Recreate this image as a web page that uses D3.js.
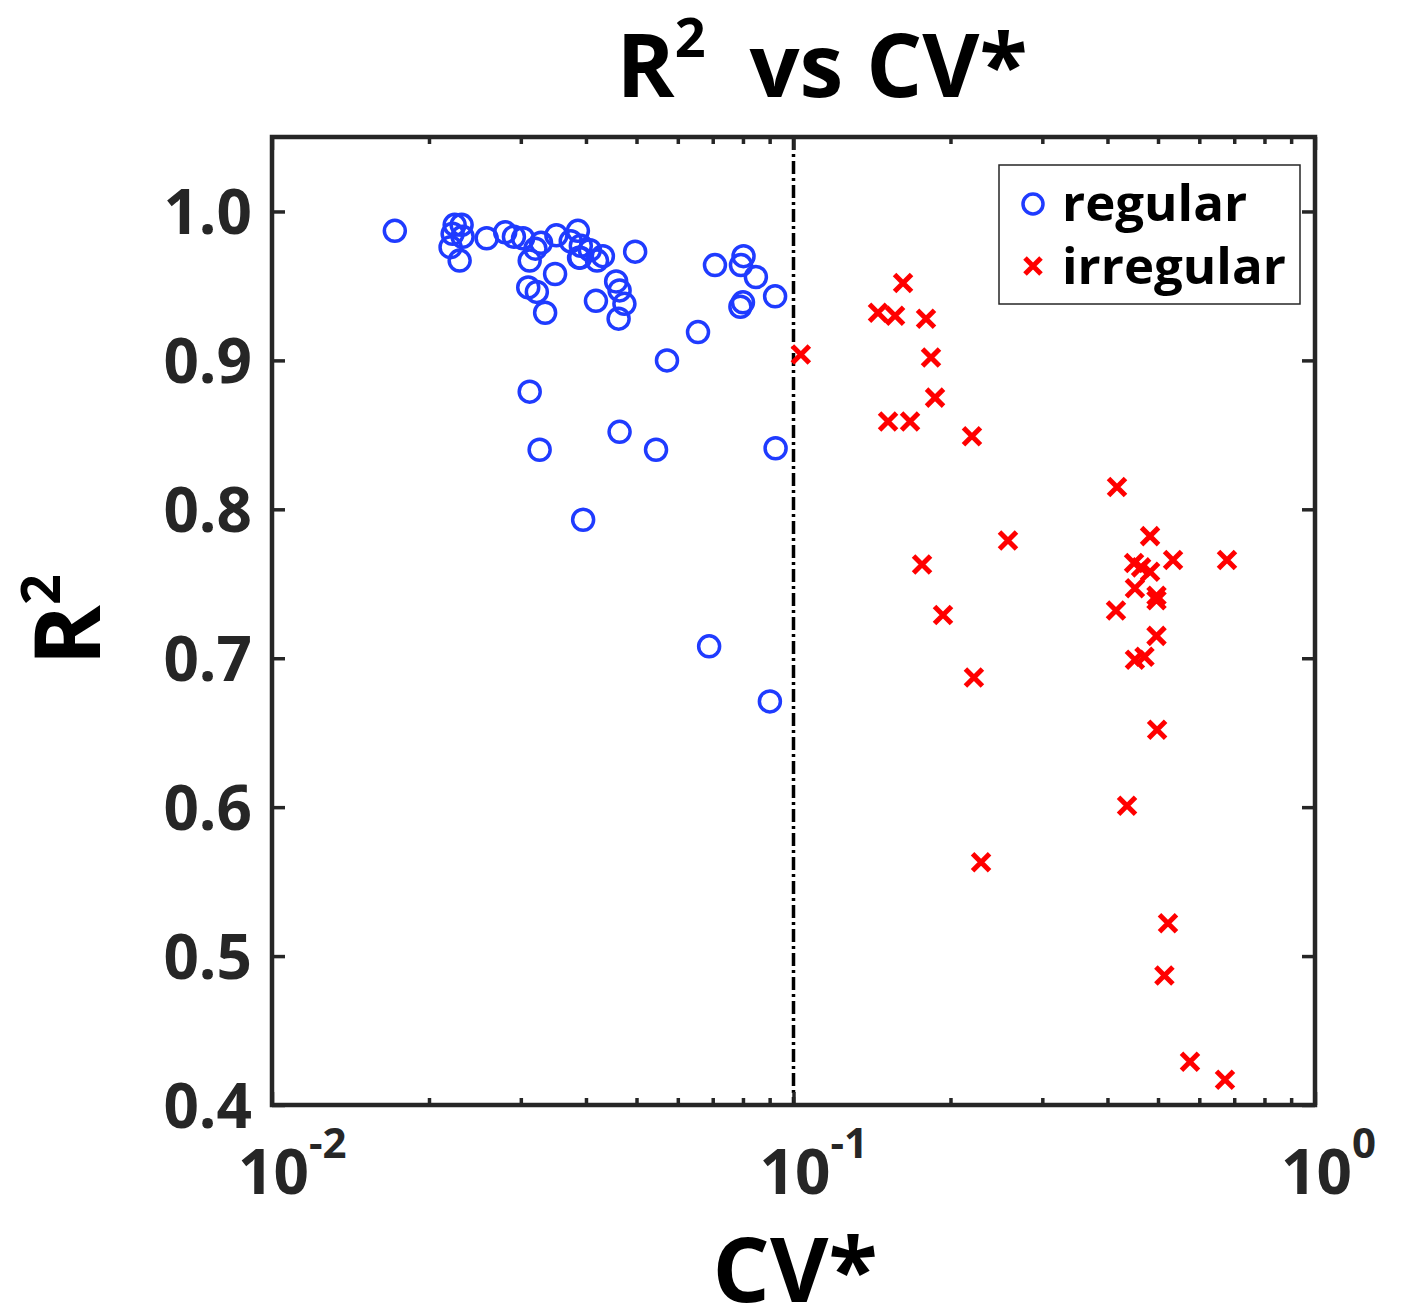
<!DOCTYPE html>
<html>
<head>
<meta charset="utf-8">
<script src="https://cdn.jsdelivr.net/npm/d3@7"></script>
<style>
  html, body { margin: 0; padding: 0; background: #fff; }
  svg { display: block; }
  text { font-family: "Open Sans", "Noto Sans", sans-serif; font-weight: 700; }
</style>
</head>
<body>
<svg id="chart" width="1405" height="1314"></svg>
<script>
// ---- data ----
const regularCV = [0.0172, 0.0224, 0.0231, 0.0222, 0.0220, 0.0229, 0.0232, 0.0258, 0.0280, 0.0291,
  0.0303, 0.0312, 0.0320, 0.0328, 0.0310, 0.0322, 0.0334, 0.0312, 0.0326, 0.0349,
  0.0351, 0.0374, 0.0386, 0.0391, 0.0390, 0.0407, 0.0420, 0.0431, 0.0418, 0.0395,
  0.0457, 0.0464, 0.0474, 0.0462, 0.0464, 0.0497, 0.0545, 0.0572, 0.0656, 0.0707,
  0.0689, 0.0793, 0.0802, 0.0847, 0.0791, 0.0800, 0.0922, 0.0924, 0.0901, 0.0388];
const regularR2 = [0.987, 0.991, 0.991, 0.985, 0.976, 0.967, 0.983, 0.982, 0.986, 0.983,
  0.982, 0.967, 0.975, 0.979, 0.949, 0.946, 0.932, 0.879, 0.840, 0.958,
  0.984, 0.980, 0.987, 0.977, 0.969, 0.974, 0.967, 0.970, 0.940, 0.793,
  0.953, 0.947, 0.938, 0.928, 0.852, 0.973, 0.840, 0.900, 0.919, 0.964,
  0.708, 0.964, 0.970, 0.956, 0.936, 0.939, 0.943, 0.841, 0.671, 0.969];
const irregularCV = [0.1033, 0.1452, 0.1566, 0.1622, 0.1795, 0.1835, 0.1868, 0.1518, 0.1673, 0.2199,
  0.1764, 0.1935, 0.2218, 0.2289, 0.2578, 0.4172, 0.4153, 0.4361, 0.4827, 0.4498,
  0.4640, 0.4828, 0.5343, 0.4515, 0.4967, 0.4967, 0.4515, 0.4710, 0.4967, 0.4980,
  0.5225, 0.5143, 0.5758, 0.6720, 0.6780];
const irregularR2 = [0.904, 0.932, 0.930, 0.952, 0.928, 0.902, 0.875, 0.859, 0.859, 0.849,
  0.763, 0.729, 0.687, 0.563, 0.779, 0.815, 0.732, 0.601, 0.782, 0.764,
  0.761, 0.758, 0.766, 0.747, 0.742, 0.739, 0.699, 0.701, 0.715, 0.652,
  0.522, 0.487, 0.429, 0.417, 0.766];
const xTickExponents = [-2, -1, 0];
const yTickValues = [0.4, 0.5, 0.6, 0.7, 0.8, 0.9, 1.0];
const thresholdCV = 0.1;
const seriesNames = ["regular", "irregular"];

// ---- layout ----
const L = 272, R = 1315, T = 137, B = 1105;
const axisColor = "#262626";
const blue = "#1f3bff", red = "#ff0000";

const svg = d3.select("#chart");
const x = d3.scaleLog().domain([0.01, 1]).range([L, R]);
const y = d3.scaleLinear().domain([0.4, 1.05]).range([B, T]);

// minor ticks
const minorX = [];
for (let e = -2; e < 0; e++) for (let m = 2; m <= 9; m++) minorX.push(m * Math.pow(10, e));

const g = svg.append("g");

// threshold dash-dot line
g.append("line")
  .attr("x1", x(thresholdCV)).attr("x2", x(thresholdCV))
  .attr("y1", T).attr("y2", B)
  .attr("stroke", "#000").attr("stroke-width", 3.5)
  .attr("stroke-dasharray", "13,4,3,4");

// axes via d3
const majLen = 13, minLen = 7;
const bottomAxis = d3.axisBottom(x).tickValues(xTickExponents.map(e => Math.pow(10, e)))
  .tickSizeInner(-majLen).tickSizeOuter(0).tickFormat("");
const bottomMinor = d3.axisBottom(x).tickValues(minorX).tickSizeInner(-minLen).tickSizeOuter(0).tickFormat("");
const topAxis = d3.axisTop(x).tickValues(xTickExponents.map(e => Math.pow(10, e)))
  .tickSizeInner(-majLen).tickSizeOuter(0).tickFormat("");
const topMinor = d3.axisTop(x).tickValues(minorX).tickSizeInner(-minLen).tickSizeOuter(0).tickFormat("");
const leftAxis = d3.axisLeft(y).tickValues(yTickValues).tickSizeInner(-majLen).tickSizeOuter(0)
  .tickFormat(d3.format(".1f")).tickPadding(20);
const rightAxis = d3.axisRight(y).tickValues(yTickValues).tickSizeInner(-majLen).tickSizeOuter(0).tickFormat("");

function styleAxis(sel) {
  sel.select(".domain").remove();
  sel.selectAll(".tick line").attr("stroke", axisColor).attr("stroke-width", 3.5);
}
g.append("g").attr("transform", `translate(0,${B})`).call(bottomAxis).call(styleAxis);
g.append("g").attr("transform", `translate(0,${B})`).call(bottomMinor).call(styleAxis);
g.append("g").attr("transform", `translate(0,${T})`).call(topAxis).call(styleAxis);
g.append("g").attr("transform", `translate(0,${T})`).call(topMinor).call(styleAxis);
const la = g.append("g").attr("transform", `translate(${L},0)`).call(leftAxis).call(styleAxis);
la.selectAll(".tick text").attr("fill", axisColor).style("font-size", "62px")
  .style("font-family", "'Open Sans', sans-serif").style("font-weight", 700).attr("dy", "0.36em");
g.append("g").attr("transform", `translate(${R},0)`).call(rightAxis).call(styleAxis);

// frame
g.append("rect").attr("x", L).attr("y", T).attr("width", R - L).attr("height", B - T)
  .attr("fill", "none").attr("stroke", axisColor).attr("stroke-width", 4.5);

// x tick labels 10^e
xTickExponents.forEach(e => {
  const t = g.append("text").attr("x", x(Math.pow(10, e)) - 34).attr("y", 1194)
    .attr("fill", axisColor).style("font-size", "62px");
  t.append("tspan").text("10");
  t.append("tspan").attr("dy", -36).style("font-size", "42px").text(String(e));
});

// points
g.append("g").selectAll("circle").data(regularCV.map((v, i) => [v, regularR2[i]]))
  .join("circle")
  .attr("cx", d => x(d[0])).attr("cy", d => y(d[1])).attr("r", 10.5)
  .attr("fill", "none").attr("stroke", blue).attr("stroke-width", 3.5);

const xs = 8.5;
g.append("g").selectAll("path").data(irregularCV.map((v, i) => [v, irregularR2[i]]))
  .join("path")
  .attr("d", d => {
    const cx = x(d[0]), cy = y(d[1]);
    return `M${cx - xs},${cy - xs}L${cx + xs},${cy + xs}M${cx - xs},${cy + xs}L${cx + xs},${cy - xs}`;
  })
  .attr("stroke", red).attr("stroke-width", 5).attr("fill", "none");

// legend
const lg = g.append("g");
lg.append("rect").attr("x", 999).attr("y", 165).attr("width", 301).attr("height", 139)
  .attr("fill", "#fff").attr("stroke", axisColor).attr("stroke-width", 1.5);
lg.append("circle").attr("cx", 1033).attr("cy", 204).attr("r", 10)
  .attr("fill", "none").attr("stroke", blue).attr("stroke-width", 3.5);
const lx = 1033, ly = 266, ls = 8;
lg.append("path").attr("d", `M${lx - ls},${ly - ls}L${lx + ls},${ly + ls}M${lx - ls},${ly + ls}L${lx + ls},${ly - ls}`)
  .attr("stroke", red).attr("stroke-width", 5);
lg.append("text").attr("x", 1062).attr("y", 221).style("font-size", "51px").attr("fill", "#000").text(seriesNames[0]);
lg.append("text").attr("x", 1062).attr("y", 284).style("font-size", "51px").attr("fill", "#000").text(seriesNames[1]);

// title
const title = svg.append("text").attr("x", 822).attr("y", 97).attr("text-anchor", "middle")
  .style("font-size", "88px").attr("fill", "#000");
title.append("tspan").text("R");
title.append("tspan").attr("dy", -40).style("font-size", "54px").text("2");
title.append("tspan").attr("dy", 40).text("\u2002vs CV*");

// x label
svg.append("text").attr("x", 795).attr("y", 1302).attr("text-anchor", "middle")
  .style("font-size", "90px").attr("fill", "#000").text("CV*");

// y label
const yl = svg.append("text").attr("transform", "translate(100,620) rotate(-90)")
  .attr("text-anchor", "middle").style("font-size", "92px").attr("fill", "#000");
yl.append("tspan").text("R");
yl.append("tspan").attr("dy", -40).style("font-size", "54px").text("2");
</script>
</body>
</html>
